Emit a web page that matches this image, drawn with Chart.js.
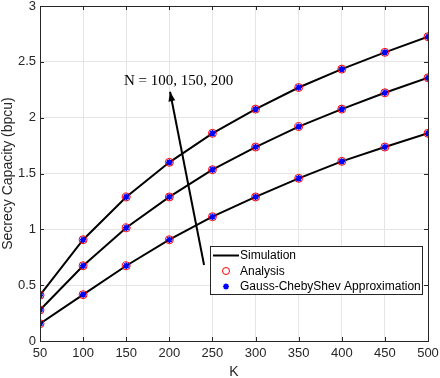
<!DOCTYPE html>
<html>
<head>
<meta charset="utf-8">
<script src="https://cdn.jsdelivr.net/npm/chart.js@4"></script>
<style>
  html, body { margin: 0; padding: 0; background: #fff; }
  #wrap { width: 440px; height: 378px; }
</style>
</head>
<body>
<div id="wrap"><canvas id="capChart" width="440" height="378"></canvas></div>
<script>
// K values on the x axis
const kValues = [50, 100, 150, 200, 250, 300, 350, 400, 450, 500];
// secrecy capacity (bpcu) per N
const capN100 = [0.155, 0.415, 0.674, 0.907, 1.113, 1.29, 1.457, 1.609, 1.737, 1.86];
const capN150 = [0.278, 0.674, 1.014, 1.29, 1.534, 1.737, 1.92, 2.077, 2.223, 2.357];
const capN200 = [0.41, 0.907, 1.29, 1.60, 1.86, 2.077, 2.27, 2.435, 2.585, 2.725];
const curves = [capN100, capN150, capN200];
const legendLabels = ['Simulation', 'Analysis', 'Gauss-ChebyShev Approximation'];
const noteText = 'N = 100, 150, 200';

const sans = '"Liberation Sans", Arial, Helvetica, sans-serif';
const axisColor = '#262626';

function toPoints(arr) {
    return arr.map((v, i) => ({ x: kValues[i], y: v }));
}

const datasets = [];
curves.forEach(function (c) {
    // blue asterisks (on top)
    datasets.push({
        data: toPoints(c), showLine: false, order: 0,
        pointStyle: 'star', pointRadius: 3.2, borderColor: '#0000ff',
        backgroundColor: '#0000ff', pointBorderWidth: 1.6
    });
    // red open circles
    datasets.push({
        data: toPoints(c), showLine: false, order: 1,
        pointStyle: 'circle', pointRadius: 4, borderColor: '#ff0000',
        backgroundColor: 'rgba(0,0,0,0)', pointBorderWidth: 1
    });
    // black simulation line
    datasets.push({
        data: toPoints(c), showLine: true, order: 2,
        borderColor: '#000', borderWidth: 2, pointRadius: 0, tension: 0
    });
});

// box, inward ticks, arrow note and legend
const extras = {
    id: 'extras',
    afterDraw(chart) {
        const ctx = chart.ctx;
        const a = chart.chartArea;
        const xs = chart.scales.x, ys = chart.scales.y;
        ctx.save();
        ctx.strokeStyle = axisColor;
        ctx.lineWidth = 1;
        ctx.strokeRect(Math.round(a.left) + 0.5, Math.round(a.top) + 0.5,
            Math.round(a.right - a.left), Math.round(a.bottom - a.top));
        ctx.beginPath();
        xs.ticks.forEach(function (t) {
            const px = Math.round(xs.getPixelForValue(t.value)) + 0.5;
            ctx.moveTo(px, a.bottom); ctx.lineTo(px, a.bottom - 4);
            ctx.moveTo(px, a.top); ctx.lineTo(px, a.top + 4);
        });
        ys.ticks.forEach(function (t) {
            const py = Math.round(ys.getPixelForValue(t.value)) + 0.5;
            ctx.moveTo(a.left, py); ctx.lineTo(a.left + 4, py);
            ctx.moveTo(a.right, py); ctx.lineTo(a.right - 4, py);
        });
        ctx.stroke();

        // arrow
        const x0 = xs.getPixelForValue(240.3), y0 = ys.getPixelForValue(0.68);
        const x1 = xs.getPixelForValue(200.8), y1 = ys.getPixelForValue(2.232);
        ctx.strokeStyle = '#000';
        ctx.fillStyle = '#000';
        ctx.lineWidth = 2;
        ctx.beginPath();
        ctx.moveTo(x0, y0); ctx.lineTo(x1, y1);
        ctx.stroke();
        const ang = Math.atan2(y1 - y0, x1 - x0);
        ctx.beginPath();
        ctx.moveTo(x1, y1);
        ctx.lineTo(x1 - 10 * Math.cos(ang - 0.35), y1 - 10 * Math.sin(ang - 0.35));
        ctx.lineTo(x1 - 10 * Math.cos(ang + 0.35), y1 - 10 * Math.sin(ang + 0.35));
        ctx.closePath();
        ctx.fill();

        ctx.font = '15px "Liberation Serif", "Times New Roman", serif';
        ctx.textAlign = 'left';
        ctx.textBaseline = 'middle';
        ctx.fillText(noteText, xs.getPixelForValue(147.3), ys.getPixelForValue(2.33));

        // legend
        const lx = 210.5, ly = 246.5, lw = 212, lh = 48;
        ctx.fillStyle = '#fff';
        ctx.fillRect(lx, ly, lw, lh);
        ctx.strokeStyle = '#262626';
        ctx.lineWidth = 1;
        ctx.strokeRect(lx, ly, lw, lh);
        ctx.font = '12px ' + sans;
        ctx.fillStyle = '#000';
        const rows = [255.5, 271, 286.5];
        ctx.strokeStyle = '#000';
        ctx.lineWidth = 2;
        ctx.beginPath(); ctx.moveTo(213, rows[0]); ctx.lineTo(239, rows[0]); ctx.stroke();
        ctx.strokeStyle = '#ff0000';
        ctx.lineWidth = 1;
        ctx.beginPath(); ctx.arc(226, rows[1], 3.5, 0, Math.PI * 2); ctx.stroke();
        ctx.strokeStyle = '#0000ff';
        ctx.lineWidth = 1.5;
        ctx.beginPath();
        for (let i = 0; i < 4; i++) {
            const t = i * Math.PI / 4;
            ctx.moveTo(226 - 3 * Math.cos(t), rows[2] - 3 * Math.sin(t));
            ctx.lineTo(226 + 3 * Math.cos(t), rows[2] + 3 * Math.sin(t));
        }
        ctx.stroke();
        ctx.fillStyle = '#000';
        legendLabels.forEach(function (txt, i) {
            ctx.fillText(txt, 240, rows[i] + 0.5);
        });
        ctx.restore();
    }
};

new Chart(document.getElementById('capChart').getContext('2d'), {
    type: 'scatter',
    data: { datasets: datasets },
    options: {
        responsive: false,
        animation: false,
        layout: { padding: { top: 6, right: 12, left: 0, bottom: 0 } },
        plugins: { legend: { display: false }, tooltip: { enabled: false } },
        scales: {
            x: {
                type: 'linear', min: 50, max: 500,
                afterFit: function (s) {
                    s.height = 37; s.paddingLeft = 0; s.paddingRight = 0;
                },
                grid: { color: '#e5e5e5', drawTicks: false },
                border: { display: false },
                ticks: {
                    stepSize: 50, padding: 5, color: axisColor,
                    font: { family: sans, size: 13 }
                },
                title: {
                    display: true, text: 'K', color: axisColor,
                    padding: { top: 0, bottom: -3 },
                    font: { family: sans, size: 14 }
                }
            },
            y: {
                min: 0, max: 3,
                afterFit: function (s) {
                    s.width = 40; s.paddingTop = 0; s.paddingBottom = 0;
                },
                grid: { color: '#e5e5e5', drawTicks: false },
                border: { display: false },
                ticks: {
                    stepSize: 0.5, padding: 4, color: axisColor,
                    font: { family: sans, size: 13 },
                    callback: function (v) { return String(+v.toFixed(1)); }
                },
                title: {
                    display: true, text: 'Secrecy Capacity (bpcu)', color: axisColor, padding: 0,
                    font: { family: sans, size: 14 }
                }
            }
        }
    },
    plugins: [extras]
});
</script>
</body>
</html>
